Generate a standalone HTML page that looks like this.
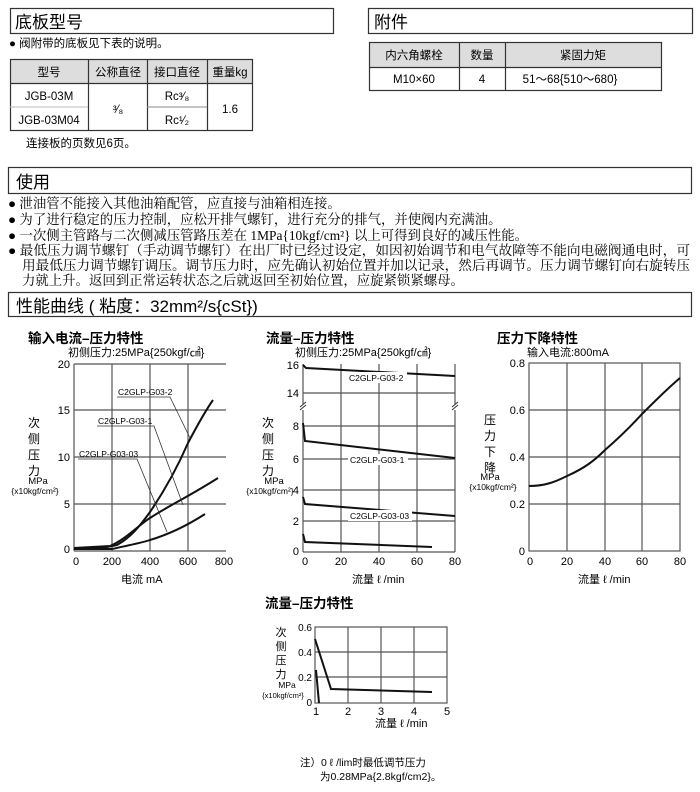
<!DOCTYPE html>
<html><head><meta charset="utf-8"><style>
body{margin:0;background:#fff;}
svg{display:block;font-family:"Liberation Sans","Noto Sans CJK SC",sans-serif;}
.s{font-family:"Liberation Serif","Noto Serif CJK SC",serif;font-size:13.4px;}
.g{stroke:#555;stroke-width:1.2;fill:none}
.c{stroke:#111;stroke-width:2;fill:none}
.t{font-size:11px}
.h{font-size:13.5px;font-weight:bold}
</style></head><body>
<svg width="700" height="792" viewBox="0 0 700 792">
<!-- headers -->
<rect x="10.5" y="8.5" width="323" height="25" fill="#fff" stroke="#333" stroke-width="1.2"/>
<text x="15" y="28" font-size="17">底板型号</text>
<rect x="368.5" y="8.5" width="324" height="25" fill="#fff" stroke="#333" stroke-width="1.2"/>
<text x="374" y="28" font-size="17">附件</text>
<text x="9" y="47" font-size="11.5">● 阀附带的底板见下表的说明。</text>
<!-- table1 -->
<rect x="10" y="59" width="242" height="24" fill="#ddd"/>
<g stroke="#333" stroke-width="1.2" fill="none">
<rect x="10.5" y="59.5" width="242" height="71"/>
<line x1="10" y1="83.5" x2="252" y2="83.5"/>
<line x1="88.5" y1="59" x2="88.5" y2="130"/>
<line x1="147.5" y1="59" x2="147.5" y2="130"/>
<line x1="207.5" y1="59" x2="207.5" y2="130"/>
</g>
<line x1="10" y1="107" x2="88" y2="107" stroke="#bbb"/>
<line x1="147" y1="107" x2="207" y2="107" stroke="#888"/>
<g font-size="11.5" text-anchor="middle">
<text x="49" y="76">型号</text><text x="118" y="76">公称直径</text><text x="177" y="76">接口直径</text><text x="230" y="76">重量kg</text>
<text x="49" y="100">JGB-03M</text><text x="49" y="124">JGB-03M04</text>
<text x="118" y="113">³⁄₈</text><text x="177" y="100">Rc³⁄₈</text><text x="177" y="124">Rc¹⁄₂</text><text x="230" y="113">1.6</text>
</g>
<text x="26" y="147" font-size="11.5">连接板的页数见6页。</text>
<!-- table2 -->
<rect x="369" y="42" width="292" height="25" fill="#ddd"/>
<g stroke="#333" stroke-width="1.2" fill="none">
<rect x="369.5" y="42.5" width="292" height="48"/>
<line x1="369" y1="67.5" x2="661" y2="67.5"/>
<line x1="459.5" y1="42" x2="459.5" y2="90"/>
<line x1="505.5" y1="42" x2="505.5" y2="90"/>
</g>
<g font-size="11.5" text-anchor="middle">
<text x="414" y="59">内六角螺栓</text><text x="482" y="59">数量</text><text x="583" y="59">紧固力矩</text>
<text x="414" y="83">M10×60</text><text x="482" y="83">4</text><text x="570" y="83">51～68{510～680}</text>
</g>
<!-- 使用 -->
<rect x="8.5" y="167.5" width="683" height="26" fill="#fff" stroke="#333" stroke-width="1.2"/>
<text x="16" y="188" font-size="17">使用</text>
<g class="s">
<text x="8" y="208">● 泄油管不能接入其他油箱配管，应直接与油箱相连接。</text>
<text x="8" y="224">● 为了进行稳定的压力控制，应松开排气螺钉，进行充分的排气，并使阀内充满油。</text>
<text x="8" y="240">● 一次侧主管路与二次侧减压管路压差在 1MPa{10kgf/cm²} 以上可得到良好的减压性能。</text>
<text x="8" y="255" textLength="682" lengthAdjust="spacingAndGlyphs">● 最低压力调节螺钉（手动调节螺钉）在出厂时已经过设定，如因初始调节和电气故障等不能向电磁阀通电时，可</text>
<text x="22" y="270" textLength="668" lengthAdjust="spacingAndGlyphs">用最低压力调节螺钉调压。调节压力时，应先确认初始位置并加以记录，然后再调节。压力调节螺钉向右旋转压</text>
<text x="22" y="285">力就上升。返回到正常运转状态之后就返回至初始位置，应旋紧锁紧螺母。</text>
</g>
<rect x="8.5" y="292.5" width="683" height="24" fill="#fff" stroke="#333" stroke-width="1.2"/>
<text x="16" y="312" font-size="17">性能曲线 ( 粘度：32mm²/s{cSt})</text>

<!-- chart 1 -->
<text x="28" y="343" class="h">输入电流–压力特性</text>
<text x="68" y="356" class="t">初侧压力:25MPa{250kgf/㎠}</text>
<g class="g">
<line x1="74" y1="364" x2="74" y2="551"/><line x1="74" y1="551" x2="226" y2="551"/><line x1="74" y1="364" x2="226" y2="364"/>
<line x1="112" y1="364" x2="112" y2="551"/><line x1="150" y1="364" x2="150" y2="551"/><line x1="188" y1="364" x2="188" y2="551"/>
<line x1="74" y1="410" x2="226" y2="410"/><line x1="74" y1="457" x2="226" y2="457"/><line x1="74" y1="504" x2="226" y2="504"/>
</g>
<g class="t" text-anchor="end"><text x="70" y="368">20</text><text x="70" y="414">15</text><text x="70" y="461">10</text><text x="70" y="508">5</text><text x="70" y="553">0</text></g>
<g class="t" text-anchor="middle"><text x="76" y="565">0</text><text x="112" y="565">200</text><text x="150" y="565">400</text><text x="188" y="565">600</text><text x="224" y="565">800</text></g>
<text x="121" y="583" font-size="11">电流  mA</text>
<g font-size="12" text-anchor="middle"><text x="34" y="427">次</text><text x="34" y="443">侧</text><text x="34" y="459">压</text><text x="34" y="475">力</text></g>
<text x="38" y="484" font-size="9.5" text-anchor="middle">MPa</text>
<text x="35" y="494" font-size="8.5" text-anchor="middle">{x10kgf/cm²}</text>
<path class="c" d="M74,548 L100,548 C 108,547 112,546 117,545 C 130,538 140,526 150,512 C 165,490 178,466 188,443 C 198,424 206,410 213,400"/>
<path class="c" d="M74,548 L110,546 C 125,540 140,524 150,518 C 170,505 188,497 218,478"/>
<path class="c" d="M74,549 L112,549 C 130,545 145,542 150,540 C 170,534 188,525 205,514"/>
<g stroke="#333" stroke-width="0.8" fill="none">
<polyline points="117,397 170,397 190,438"/><polyline points="97,426 154,426 183,505"/><polyline points="78,459 137,459 167,532"/>
</g>
<g font-size="8.5"><text x="118" y="395">C2GLP-G03-2</text><text x="98" y="424">C2GLP-G03-1</text><text x="79" y="457">C2GLP-G03-03</text></g>

<!-- chart 2 -->
<text x="266" y="343" class="h">流量–压力特性</text>
<text x="295" y="356" class="t">初侧压力:25MPa{250kgf/㎠}</text>
<g class="g">
<line x1="303" y1="364" x2="303" y2="552"/><line x1="303" y1="552" x2="455" y2="552"/><line x1="455" y1="364" x2="455" y2="552"/>
<line x1="341" y1="364" x2="341" y2="552"/><line x1="379" y1="364" x2="379" y2="552"/><line x1="417" y1="364" x2="417" y2="552"/>
<line x1="303" y1="393" x2="455" y2="393"/><line x1="303" y1="426" x2="455" y2="426"/><line x1="303" y1="459" x2="455" y2="459"/><line x1="303" y1="490" x2="455" y2="490"/><line x1="303" y1="521" x2="455" y2="521"/>
</g>
<rect x="298" y="404" width="10" height="6" fill="#fff"/><rect x="450" y="404" width="10" height="6" fill="#fff"/>
<path d="M300,410 l6,-5 M300,407 l6,-5 M452,410 l6,-5 M452,407 l6,-5" stroke="#333"/>
<g class="t" text-anchor="end"><text x="299" y="369">16</text><text x="299" y="397">14</text><text x="299" y="430">8</text><text x="299" y="463">6</text><text x="299" y="494">4</text><text x="299" y="525">2</text><text x="299" y="555">0</text></g>
<g class="t" text-anchor="middle"><text x="305" y="565">0</text><text x="341" y="565">20</text><text x="379" y="565">40</text><text x="417" y="565">60</text><text x="455" y="565">80</text></g>
<text x="352" y="583" font-size="11">流量  ℓ /min</text>
<g font-size="12" text-anchor="middle"><text x="268" y="427">次</text><text x="268" y="443">侧</text><text x="268" y="459">压</text><text x="268" y="475">力</text></g>
<text x="274" y="484" font-size="9.5" text-anchor="middle">MPa</text>
<text x="270" y="494" font-size="8.5" text-anchor="middle">{x10kgf/cm²}</text>
<path class="c" d="M303,365 L306,368 L455,376"/>
<path class="c" d="M303,423 L305,441 L455,458"/>
<path class="c" d="M303,497 L305,504 L455,516"/>
<path class="c" d="M303,534 L305,542 L432,547"/>
<rect x="347" y="372" width="60" height="11" fill="#fff"/>
<rect x="348" y="454" width="60" height="11" fill="#fff"/>
<rect x="348" y="510" width="64" height="11" fill="#fff"/>
<g font-size="8.5"><text x="349" y="381">C2GLP-G03-2</text><text x="350" y="463">C2GLP-G03-1</text><text x="350" y="519">C2GLP-G03-03</text></g>

<!-- chart 3 -->
<text x="497" y="343" class="h">压力下降特性</text>
<text x="527" y="356" class="t">输入电流:800mA</text>
<g class="g">
<rect x="529" y="363" width="151" height="188"/>
<line x1="567" y1="363" x2="567" y2="551"/><line x1="605" y1="363" x2="605" y2="551"/><line x1="642" y1="363" x2="642" y2="551"/>
<line x1="529" y1="410" x2="680" y2="410"/><line x1="529" y1="457" x2="680" y2="457"/><line x1="529" y1="504" x2="680" y2="504"/>
</g>
<g class="t" text-anchor="end"><text x="525" y="367">0.8</text><text x="525" y="414">0.6</text><text x="525" y="461">0.4</text><text x="525" y="508">0.2</text><text x="525" y="555">0</text></g>
<g class="t" text-anchor="middle"><text x="530" y="565">0</text><text x="567" y="565">20</text><text x="605" y="565">40</text><text x="642" y="565">60</text><text x="680" y="565">80</text></g>
<text x="578" y="583" font-size="11">流量  ℓ /min</text>
<g font-size="12" text-anchor="middle"><text x="490" y="424">压</text><text x="490" y="440">力</text><text x="490" y="456">下</text><text x="490" y="472">降</text></g>
<text x="490" y="480" font-size="9.5" text-anchor="middle">MPa</text>
<text x="493" y="490" font-size="8.5" text-anchor="middle">{x10kgf/cm²}</text>
<path class="c" d="M529,486 C 545,486 555,482 567,476 C 585,468 595,460 605,450 C 620,437 632,425 642,414 C 656,400 668,388 680,378"/>

<!-- chart 4 -->
<text x="265" y="608" class="h">流量–压力特性</text>
<g class="g">
<rect x="315" y="627" width="132" height="76"/>
<line x1="348" y1="627" x2="348" y2="703"/><line x1="381" y1="627" x2="381" y2="703"/><line x1="414" y1="627" x2="414" y2="703"/>
<line x1="315" y1="652" x2="447" y2="652"/><line x1="315" y1="677" x2="447" y2="677"/>
</g>
<g font-size="10" text-anchor="end"><text x="312" y="631">0.6</text><text x="312" y="656">0.4</text><text x="312" y="681">0.2</text><text x="312" y="706">0</text></g>
<g class="t" text-anchor="middle"><text x="316" y="715">1</text><text x="348" y="715">2</text><text x="381" y="715">3</text><text x="414" y="715">4</text><text x="447" y="715">5</text></g>
<text x="375" y="727" font-size="11">流量  ℓ /min</text>
<g font-size="11" text-anchor="middle"><text x="281" y="636">次</text><text x="281" y="650">侧</text><text x="281" y="664">压</text><text x="281" y="678">力</text></g>
<text x="287" y="688" font-size="8.5" text-anchor="middle">MPa</text>
<text x="283" y="698" font-size="7.5" text-anchor="middle">{x10kgf/cm²}</text>
<path class="c" d="M315,639 L331,689 L432,692"/>
<path class="c" d="M316,670 L319,703"/>
<text x="300" y="766" font-size="10.5">注）0 ℓ /lim时最低调节压力</text>
<text x="320" y="780" font-size="10.5">为0.28MPa{2.8kgf/cm2}。</text>
</svg>
</body></html>
